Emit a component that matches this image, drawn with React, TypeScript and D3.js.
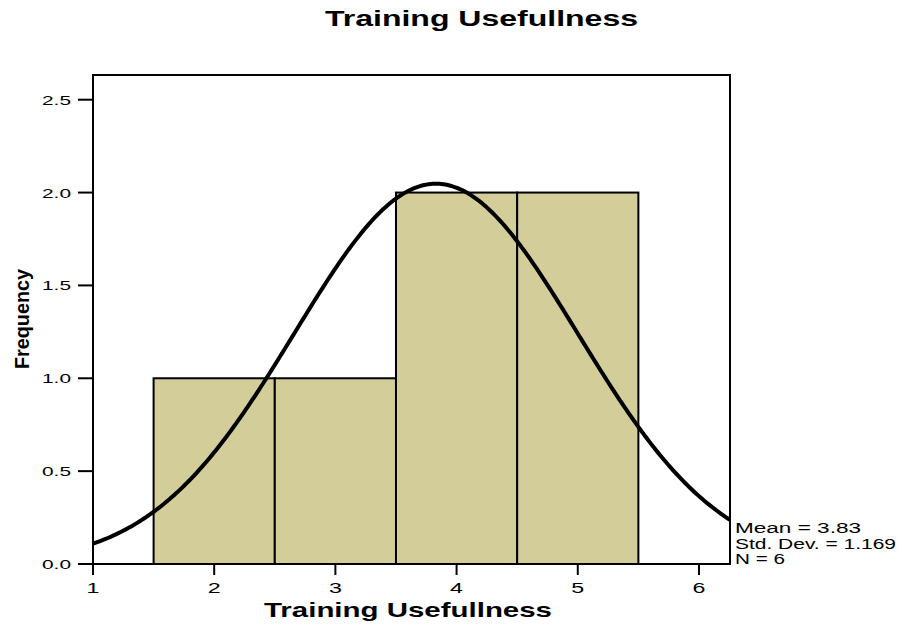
import React from "react";
import * as d3 from "d3";

const binStarts = [1.5, 2.5, 3.5, 4.5];
const binCounts = [1, 1, 2, 2];
const yTicks = [0, 0.5, 1.0, 1.5, 2.0, 2.5];
const xTicks = [1, 2, 3, 4, 5, 6];
const mean = 3.83;
const sd = 1.169;
const n = 6;
const binWidth = 1;
const statLines = ["Mean = 3.83", "Std. Dev. = 1.169", "N = 6"];
const statWidths = [126, 161, 50];

const font = "'Liberation Sans', Arial, sans-serif";

function SText(props: {
  x: number;
  y: number;
  sx: number;
  size: number;
  anchor?: string;
  bold?: boolean;
  children: React.ReactNode;
}) {
  const { x, y, sx, size, anchor = "start", bold = false, children } = props;
  return (
    <g transform={`translate(${x},${y}) scale(${sx},1)`}>
      <text
        x={0}
        y={0}
        textAnchor={anchor}
        fontFamily={font}
        fontWeight={bold ? "bold" : "normal"}
        fontSize={size}
        fill="#000"
      >
        {children}
      </text>
    </g>
  );
}

export default function App() {
  const W = 902, H = 626;
  const left = 93, right = 730, top = 75, bottom = 564;
  const x = d3.scaleLinear().domain([1, 6.256]).range([left, right]);
  const y = d3.scaleLinear().domain([0, 2.633]).range([bottom, top]);
  const pdf = (v: number) =>
    ((n * binWidth) / (sd * Math.sqrt(2 * Math.PI))) * Math.exp(-0.5 * ((v - mean) / sd) ** 2);
  const xs = d3.range(0, 301).map((i) => 1 + (i / 300) * (6.256 - 1));
  const line = d3.line<number>().x((v) => x(v)).y((v) => y(pdf(v)));
  return (
    <svg width={W} height={H} style={{ position: "absolute", left: 0, top: 0 }}>
      <rect x={0} y={0} width={W} height={H} fill="#fff" />
      <text
        x={481.5}
        y={26}
        textAnchor="middle"
        fontFamily={font}
        fontWeight="bold"
        fontSize={22}
        textLength={313}
        lengthAdjust="spacingAndGlyphs"
      >
        Training Usefullness
      </text>
      <defs>
        <clipPath id="plot">
          <rect x={left} y={top} width={right - left} height={bottom - top} />
        </clipPath>
      </defs>
      {binStarts.map((b, i) => (
        <rect
          key={i}
          x={x(b)}
          y={y(binCounts[i])}
          width={x(b + binWidth) - x(b)}
          height={bottom - y(binCounts[i])}
          fill="#D3CD99"
          stroke="#000"
          strokeWidth={2}
        />
      ))}
      <path d={line(xs) || ""} fill="none" stroke="#000" strokeWidth={4} clipPath="url(#plot)" />
      <rect x={left} y={top} width={right - left} height={bottom - top} fill="none" stroke="#000" strokeWidth={2} />
      {yTicks.map((t) => (
        <g key={t}>
          <line x1={left - 15} x2={left} y1={y(t)} y2={y(t)} stroke="#000" strokeWidth={2} />
          <text
            x={71}
            y={y(t) + 5}
            textAnchor="end"
            fontFamily={font}
            fontSize={13.5}
            textLength={29}
            lengthAdjust="spacingAndGlyphs"
          >
            {t.toFixed(1)}
          </text>
        </g>
      ))}
      {xTicks.map((t) => (
        <g key={t}>
          <line x1={x(t)} x2={x(t)} y1={bottom} y2={bottom + 11} stroke="#000" strokeWidth={2} />
          <SText x={x(t)} y={593} sx={1.55} size={15} anchor="middle">
            {t}
          </SText>
        </g>
      ))}
      <text
        x={408}
        y={617}
        textAnchor="middle"
        fontFamily={font}
        fontWeight="bold"
        fontSize={21}
        textLength={288}
        lengthAdjust="spacingAndGlyphs"
      >
        Training Usefullness
      </text>
      <text
        transform={`translate(29,319) rotate(-90)`}
        textAnchor="middle"
        fontFamily={font}
        fontWeight="bold"
        fontSize={21}
        textLength={100}
        lengthAdjust="spacingAndGlyphs"
      >
        Frequency
      </text>
      {statLines.map((s, i) => (
        <text
          key={s}
          x={735}
          y={533 + i * 15.5}
          fontFamily={font}
          fontSize={15.5}
          textLength={statWidths[i]}
          lengthAdjust="spacingAndGlyphs"
        >
          {s}
        </text>
      ))}
    </svg>
  );
}
